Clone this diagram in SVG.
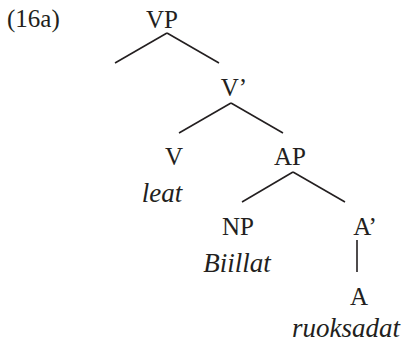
<svg xmlns="http://www.w3.org/2000/svg" width="408" height="344" viewBox="0 0 408 344">
<style>
text{font-family:"Liberation Serif","DejaVu Serif",serif;font-size:25px;fill:#231f20}
.c{text-anchor:middle}
.i{font-style:italic;font-size:27px}
.e line{stroke:#231f20;stroke-width:1.6;fill:none}
</style>
<rect width="408" height="344" fill="#fff"/>
<text x="7" y="27">(16a)</text>
<g id="VP"><text class="c" x="162" y="28">VP</text></g>
<g id="Vbar"><text class="c" x="234" y="96">V’</text></g>
<g id="V"><text class="c" x="174" y="165">V</text><text class="c i" x="162" y="202">leat</text></g>
<g id="AP"><text class="c" x="290" y="165">AP</text></g>
<g id="NP"><text class="c" x="238" y="235">NP</text><text class="c i" x="237" y="272">Biillat</text></g>
<g id="Abar"><text class="c" x="365" y="235">A’</text></g>
<g id="A"><text class="c" x="359" y="305">A</text><text class="c i" x="346" y="337">ruoksadat</text></g>
<g id="edges" class="e">
<line x1="167" y1="33" x2="115" y2="63"/>
<line x1="167" y1="33" x2="219" y2="63"/>
<line x1="231" y1="103" x2="179" y2="133"/>
<line x1="231" y1="103" x2="283" y2="133"/>
<line x1="293" y1="172" x2="242" y2="202"/>
<line x1="293" y1="172" x2="345" y2="202"/>
<line x1="357" y1="240" x2="357" y2="272"/>
</g>
</svg>
